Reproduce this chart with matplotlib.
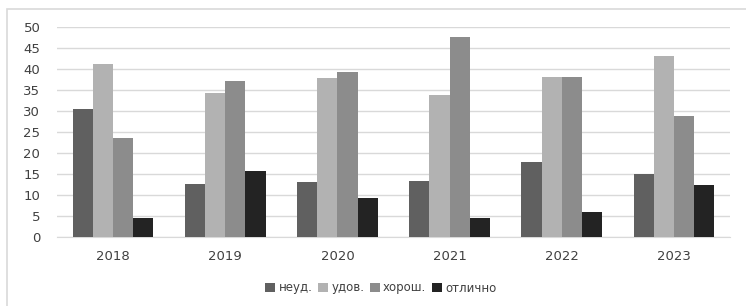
import numpy as np
import matplotlib
matplotlib.use("Agg")
import matplotlib.pyplot as plt
from matplotlib.patches import Rectangle

# data
years = ["2018", "2019", "2020", "2021", "2022", "2023"]
series_names = ["неуд.", "удов.", "хорош.", "отлично"]
neud = [30.4, 12.7, 13.1, 13.4, 17.9, 15.0]
udov = [41.3, 34.4, 37.9, 33.9, 38.0, 43.2]
horosh = [23.5, 37.2, 39.4, 47.6, 38.0, 28.7]
otlichno = [4.6, 15.6, 9.3, 4.5, 6.0, 12.4]

colors = ["#606060", "#b2b2b2", "#8c8c8c", "#232323"]
text_color = "#404040"

plt.rcParams["font.family"] = ["DejaVu Sans"]

W, H = 746, 306
fig = plt.figure(figsize=(W / 100, H / 100), dpi=100)

# outer chart frame
fig.patches.append(Rectangle((7 / W, -0.1), 1.2, (H - 9) / H + 0.1,
                             transform=fig.transFigure, fill=False,
                             edgecolor="#d9d9d9", linewidth=1.2))

ax = fig.add_axes([57 / W, (H - 237) / H, (730 - 57) / W, (237 - 27) / H])

x = np.arange(len(years))
bar_w = 0.18
for i, (vals, name) in enumerate(zip([neud, udov, horosh, otlichno], series_names)):
    ax.bar(x + (i - 1.5) * bar_w, vals, width=bar_w, color=colors[i],
           label=name, zorder=3)

ax.set_xlim(-0.5, len(years) - 0.5)
ax.set_ylim(0, 50)
ax.set_yticks(np.arange(0, 51, 5))
ax.set_xticks(x)
ax.set_xticklabels(years)
ax.grid(axis="y", color="#d9d9d9", linewidth=1.0, zorder=0)
for side in ["top", "right", "left"]:
    ax.spines[side].set_visible(False)
ax.spines["bottom"].set_color("#d9d9d9")
ax.tick_params(axis="both", length=0, colors=text_color, labelsize=9.5)
ax.tick_params(axis="y", pad=12)
ax.tick_params(axis="x", pad=9)

fig.legend(loc="center", bbox_to_anchor=(381 / W, 1 - 288 / H), ncol=4,
           frameon=False, fontsize=8.5, handlelength=0.8, handleheight=0.8,
           handletextpad=0.3, columnspacing=0.5, labelcolor=text_color)

fig.savefig("out.png", dpi=100, facecolor="white")
